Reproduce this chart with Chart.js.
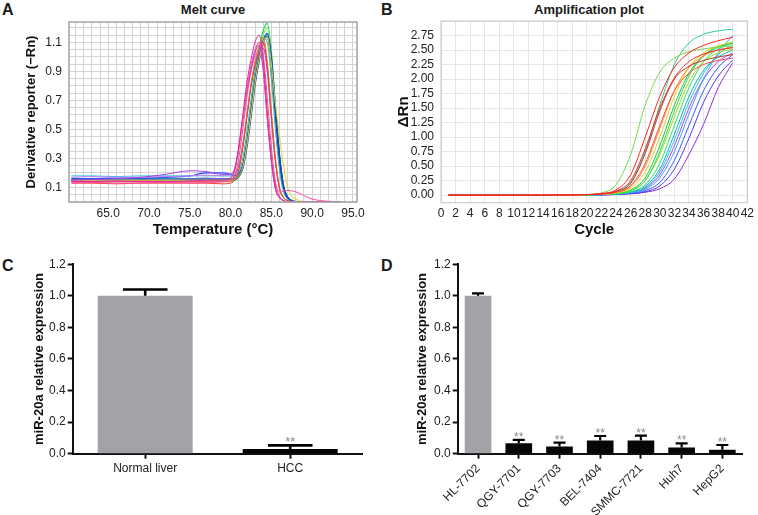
<!DOCTYPE html>
<html>
<head>
<meta charset="utf-8">
<script src="https://cdn.jsdelivr.net/npm/chart.js@4.4.1/dist/chart.umd.min.js"></script>
<style>
  body { margin: 0; background: #fff; width: 758px; height: 515px; position: relative; overflow: hidden;
         font-family: 'Liberation Sans', Arial, sans-serif; color: #1a1a1a; }
  canvas { position: absolute; }
  .letter { position: absolute; font-weight: bold; font-size: 16px; line-height: 16px; }
  .title { position: absolute; font-weight: bold; font-size: 13px; line-height: 13px; white-space: nowrap; transform: translateX(-50%); }
</style>
</head>
<body>
<div class="letter" style="left:2px;top:2px">A</div>
<div class="title" style="left:213px;top:3px">Melt curve</div>
<div class="letter" style="left:381px;top:2px">B</div>
<div class="title" style="left:589px;top:3px">Amplification plot</div>
<div class="letter" style="left:2px;top:258px">C</div>
<div class="letter" style="left:381px;top:258px">D</div>

<canvas id="melt" width="380" height="260" style="left:0;top:0"></canvas>
<canvas id="amp" width="378" height="260" style="left:380px;top:0"></canvas>
<canvas id="tissue" width="380" height="260" style="left:0;top:255px"></canvas>
<canvas id="cells" width="378" height="260" style="left:380px;top:255px"></canvas>

<script>
// ---- melt curve (A): temperatures and derivative reporter per well ----
const meltTemps = [60.5, 63, 66, 69, 72, 75, 77, 79, 80, 80.5, 81, 81.5, 82, 82.5, 83, 83.5, 84, 84.5, 85, 85.5, 86, 86.5, 87, 88, 90, 93.5];
const meltMagenta = [0.14,0.14,0.145,0.14,0.14,0.145,0.15,0.15, 0.17,0.22,0.38,0.6,0.82,0.98,1.1,1.15,0.98,0.62,0.3,0.1,0.03,0.01,0,0,0,0];
const meltPink    = [0.13,0.135,0.13,0.13,0.135,0.13,0.135,0.14, 0.16,0.21,0.36,0.57,0.78,0.94,1.05,1.1,0.95,0.6,0.3,0.13,0.07,0.075,0.08,0.07,0.02,0];
const meltPurple  = [0.15,0.155,0.16,0.17,0.19,0.215,0.21,0.19, 0.19,0.23,0.37,0.57,0.77,0.92,1.03,1.08,0.92,0.58,0.28,0.09,0.03,0.01,0,0,0,0];
const meltRose    = [0.14,0.14,0.14,0.14,0.14,0.14,0.14,0.14, 0.15,0.18,0.3,0.5,0.72,0.9,1.03,1.1,1.02,0.72,0.38,0.14,0.04,0.01,0,0,0,0];
const meltRed     = [0.13,0.13,0.125,0.13,0.13,0.13,0.13,0.125, 0.13,0.15,0.22,0.37,0.58,0.79,0.94,1.05,1.1,0.94,0.6,0.29,0.1,0.03,0.01,0,0,0];
const meltOrange  = [0.14,0.14,0.14,0.145,0.14,0.14,0.14,0.14, 0.145,0.16,0.22,0.38,0.59,0.81,0.97,1.08,1.13,0.97,0.62,0.3,0.1,0.03,0.01,0,0,0];
const meltYellow  = [0.15,0.15,0.15,0.15,0.15,0.15,0.15,0.15, 0.15,0.155,0.18,0.24,0.39,0.6,0.82,0.98,1.1,1.14,0.95,0.68,0.45,0.25,0.1,0.02,0,0];
const meltGreen   = [0.15,0.15,0.15,0.155,0.15,0.15,0.15,0.15, 0.15,0.155,0.18,0.24,0.41,0.64,0.88,1.05,1.18,1.23,1.04,0.66,0.32,0.11,0.03,0.005,0,0];
const meltLime    = [0.14,0.14,0.14,0.14,0.14,0.14,0.14,0.14, 0.14,0.15,0.17,0.23,0.4,0.62,0.86,1.03,1.15,1.2,1.02,0.65,0.31,0.1,0.03,0,0,0];
const meltTeal    = [0.16,0.16,0.16,0.16,0.16,0.16,0.16,0.16, 0.16,0.165,0.19,0.25,0.4,0.61,0.83,0.99,1.11,1.16,0.99,0.63,0.31,0.1,0.03,0,0,0];
const meltSea     = [0.15,0.15,0.155,0.15,0.15,0.15,0.15,0.15, 0.15,0.16,0.2,0.3,0.48,0.7,0.9,1.04,1.13,1.1,0.85,0.5,0.22,0.07,0.02,0,0,0];
const meltCyan    = [0.18,0.18,0.175,0.18,0.18,0.18,0.18,0.18, 0.18,0.19,0.24,0.38,0.58,0.8,0.96,1.07,1.12,0.96,0.62,0.3,0.1,0.03,0.01,0,0,0];
const meltBlue    = [0.16,0.16,0.165,0.165,0.17,0.18,0.2,0.2, 0.19,0.18,0.2,0.25,0.4,0.61,0.83,0.99,1.11,1.16,0.99,0.63,0.31,0.1,0.03,0,0,0];
const meltNavy    = [0.155,0.15,0.15,0.15,0.15,0.15,0.15,0.15, 0.15,0.155,0.18,0.24,0.39,0.6,0.82,0.98,1.1,1.14,0.97,0.62,0.3,0.1,0.03,0,0,0];
const meltLilac   = [0.17,0.175,0.17,0.17,0.175,0.18,0.185,0.18, 0.19,0.23,0.37,0.57,0.76,0.9,1.0,1.05,0.9,0.57,0.28,0.09,0.03,0.01,0,0,0,0];
const meltViolet  = [0.15,0.15,0.15,0.15,0.155,0.16,0.165,0.16, 0.16,0.18,0.25,0.4,0.6,0.8,0.94,1.02,1.06,0.9,0.57,0.27,0.09,0.03,0.01,0,0,0];

// ---- amplification plot (B): cycles and delta Rn per well ----
const ampCycles = [1, 10, 18, 20, 22, 24, 26, 28, 30, 32, 34, 36, 38, 40];
const ampRed1   = [0,0,0.005,0.01,0.03,0.09,0.35,1.0,1.7,2.2,2.45,2.58,2.66,2.72];
const ampRed2   = [0,0,0.005,0.01,0.02,0.07,0.25,0.8,1.5,2.02,2.3,2.43,2.5,2.54];
const ampRed3   = [0,0,0.004,0.008,0.02,0.05,0.16,0.55,1.2,1.8,2.1,2.25,2.32,2.36];
const ampBrown  = [0,0,0.005,0.01,0.02,0.06,0.2,0.72,1.45,2.0,2.22,2.32,2.38,2.42];
const ampGreen1 = [0,0,0.005,0.01,0.04,0.18,0.7,1.55,2.12,2.36,2.47,2.52,2.55,2.57];
const ampGreen2 = [0,0,0.005,0.01,0.02,0.06,0.22,0.75,1.55,2.25,2.62,2.77,2.83,2.86];
const ampOrange = [0,0,0.005,0.01,0.02,0.05,0.15,0.5,1.15,1.8,2.2,2.4,2.5,2.55];
const ampYellow = [0,0,0.004,0.008,0.015,0.04,0.12,0.4,1.0,1.7,2.2,2.45,2.57,2.63];
const ampGreen3 = [0,0,0.003,0.006,0.012,0.03,0.08,0.25,0.75,1.45,2.05,2.4,2.56,2.64];
const ampLime   = [0,0,0.003,0.006,0.012,0.03,0.08,0.25,0.7,1.35,1.95,2.3,2.45,2.52];
const ampGreen4 = [0,0,0.003,0.006,0.012,0.03,0.09,0.3,0.85,1.55,2.1,2.4,2.55,2.62];
const ampSpring = [0,0,0.003,0.005,0.01,0.025,0.06,0.18,0.55,1.2,1.85,2.3,2.52,2.62];
const ampTeal   = [0,0,0.002,0.005,0.01,0.022,0.055,0.15,0.45,1.05,1.7,2.15,2.38,2.5];
const ampCyan   = [0,0,0.002,0.004,0.008,0.02,0.05,0.13,0.4,0.95,1.6,2.1,2.42,2.6];
const ampSky    = [0,0,0.002,0.004,0.008,0.018,0.04,0.1,0.3,0.75,1.4,2.0,2.45,2.75];
const ampBlue   = [0,0,0.002,0.004,0.007,0.015,0.035,0.08,0.22,0.6,1.2,1.8,2.2,2.42];
const ampIndigo = [0,0,0.002,0.003,0.006,0.012,0.028,0.06,0.16,0.45,0.98,1.6,2.05,2.33];
const ampPurple = [0,0,0.002,0.003,0.005,0.01,0.022,0.05,0.11,0.28,0.7,1.22,1.85,2.28];
const ampViolet = [0,0,0.002,0.003,0.006,0.015,0.04,0.12,0.35,0.85,1.5,2.0,2.3,2.45];

// ---- relative expression (C, D) ----
const tissueLabels = ['Normal liver', 'HCC'];
const tissueValues = [1.0, 0.03];
const tissueErrors = [0.04, 0.023];
const tissueMarks  = ['', '**'];

const cellLabels = ['HL-7702', 'QGY-7701', 'QGY-7703', 'BEL-7404', 'SMMC-7721', 'Huh7', 'HepG2'];
const cellValues = [1.0, 0.066, 0.046, 0.083, 0.083, 0.039, 0.025];
const cellErrors = [0.015, 0.021, 0.024, 0.029, 0.031, 0.027, 0.03];
const cellMarks  = ['', '**', '**', '**', '**', '**', '**'];

// ---- styling ----
Chart.defaults.font.family = "'Liberation Sans', Arial, sans-serif";
Chart.defaults.color = '#1a1a1a';

const meltSeries = [
  [meltMagenta, '#e0289a', 1], [meltPink, '#ff4fa8', 1], [meltPurple, '#a442e2', 1], [meltRose, '#f0507a', 1],
  [meltRed, '#ff3434', 1], [meltOrange, '#ff8c1e', 1], [meltYellow, '#e4d41e', 1],
  [meltLilac, '#c47cf0', 1], [meltViolet, '#7e4ee8', 1], [meltCyan, '#2ac6e6', 1], [meltSea, '#1cc0a0', 1],
  [meltNavy, '#1e3ec8', 2], [meltBlue, '#2a48ff', 1.2], [meltTeal, '#12a89a', 1.5],
  [meltLime, '#78f25a', 1.2], [meltGreen, '#1ed45c', 1.2]
];
const ampSeries = [
  [ampRed1, '#ff2424'], [ampRed2, '#e83030'], [ampRed3, '#ff4a4a'], [ampBrown, '#b43622'],
  [ampGreen1, '#78d84a'], [ampGreen2, '#1ccf8c'], [ampOrange, '#ff8a1e'], [ampYellow, '#e2d21c'],
  [ampGreen3, '#34dc34'], [ampLime, '#9ee01e'], [ampGreen4, '#12c060'], [ampSpring, '#20e07c'],
  [ampTeal, '#10b0b0'], [ampCyan, '#22c4e2'], [ampSky, '#3c9cff'], [ampBlue, '#2f5cff'],
  [ampIndigo, '#4c3cf0'], [ampPurple, '#8e2ee0'], [ampViolet, '#b040ff']
];

const frame = {
  id: 'frame',
  afterDraw(chart, args, opts) {
    const { ctx, chartArea: a } = chart;
    ctx.save();
    ctx.strokeStyle = opts.color;
    ctx.lineWidth = opts.width;
    ctx.strokeRect(a.left, a.top, a.right - a.left, a.bottom - a.top);
    ctx.restore();
  }
};

// upper whisker + cap + significance stars, placed with the y scale
const errorBars = {
  id: 'errorBars',
  afterDatasetsDraw(chart, args, opts) {
    const { ctx } = chart;
    const y = chart.scales.y;
    const values = chart.data.datasets[0].data;
    chart.getDatasetMeta(0).data.forEach((bar, i) => {
      const base = y.getPixelForValue(values[i]);
      const top = y.getPixelForValue(values[i] + opts.errors[i]);
      const half = bar.width * opts.cap / 2;
      ctx.save();
      ctx.strokeStyle = '#000';
      ctx.lineWidth = opts.lineWidth;
      ctx.beginPath();
      ctx.moveTo(bar.x, base);
      ctx.lineTo(bar.x, top);
      ctx.moveTo(bar.x - half, top);
      ctx.lineTo(bar.x + half, top);
      ctx.stroke();
      if (opts.marks[i]) {
        ctx.fillStyle = '#8a8a8a';
        ctx.font = opts.markFont;
        ctx.textAlign = 'center';
        ctx.textBaseline = 'alphabetic';
        ctx.fillText(opts.marks[i], bar.x, top + 1);
      }
      ctx.restore();
    });
  }
};

new Chart(document.getElementById('melt'), {
  type: 'line',
  data: {
    datasets: meltSeries.map(([vals, color, w]) => ({
      data: meltTemps.map((t, i) => ({ x: t, y: vals[i] })),
      borderColor: color, borderWidth: w, pointRadius: 0,
      cubicInterpolationMode: 'monotone', fill: false
    }))
  },
  options: {
    responsive: false, animation: false,
    layout: { padding: { top: 22, right: 23, left: 0, bottom: 0 } },
    plugins: { legend: { display: false }, tooltip: { enabled: false }, frame: { color: '#a4a4a4', width: 1.5 } },
    scales: {
      x: {
        type: 'linear', min: 60.2, max: 95.5,
        afterFit(s) { s.height = 58; },
        ticks: { stepSize: 1, includeBounds: false, autoSkip: false, maxRotation: 0, padding: 4, font: { size: 12 }, color: '#222',
                 callback: v => (v % 5 === 0 && v >= 65) ? v.toFixed(1) : '' },
        grid: { color: '#d4d4d4', drawTicks: false },
        border: { display: false },
        title: { display: true, text: 'Temperature (°C)', font: { size: 15, weight: 'bold' }, color: '#111', padding: { top: 0, bottom: 21 } }
      },
      y: {
        min: 0, max: 1.24,
        afterFit(s) { s.width = 69; },
        ticks: { stepSize: 0.05, includeBounds: false, autoSkip: false, padding: 7, font: { size: 12 }, color: '#222',
                 callback: v => { const k = Math.round(v * 100); return k % 20 === 10 ? (k / 100).toFixed(1) : ''; } },
        grid: { color: '#d4d4d4', drawTicks: false },
        border: { display: false },
        title: { display: true, text: 'Derivative reporter (−Rn)', font: { size: 13, weight: 'bold' }, color: '#111', padding: { top: 24, bottom: 0 } }
      }
    }
  },
  plugins: [frame]
});

new Chart(document.getElementById('amp'), {
  type: 'line',
  data: {
    datasets: ampSeries.map(([vals, color]) => ({
      data: ampCycles.map((c, i) => ({ x: c, y: vals[i] })),
      borderColor: color, borderWidth: 1, pointRadius: 0,
      cubicInterpolationMode: 'monotone', fill: false
    }))
  },
  options: {
    responsive: false, animation: false,
    layout: { padding: { top: 21, right: 7.5, left: 0, bottom: 0 } },
    plugins: { legend: { display: false }, tooltip: { enabled: false }, frame: { color: '#c4c4c4', width: 1 } },
    scales: {
      x: {
        type: 'linear', min: 0, max: 42,
        afterFit(s) { s.height = 57.3; },
        ticks: { stepSize: 2, autoSkip: false, maxRotation: 0, padding: 4, font: { size: 12 }, color: '#222' },
        grid: { color: '#e6e6e6', drawTicks: false },
        border: { display: false },
        title: { display: true, text: 'Cycle', font: { size: 15, weight: 'bold' }, color: '#111', padding: { top: 0, bottom: 21 } }
      },
      y: {
        min: -0.13, max: 3.0,
        afterFit(s) { s.width = 61; },
        ticks: { stepSize: 0.25, includeBounds: false, autoSkip: false, padding: 7, font: { size: 12 }, color: '#222',
                 callback: v => (v >= 0 && v <= 2.76) ? v.toFixed(2) : '' },
        grid: { color: '#e6e6e6', drawTicks: false },
        border: { display: false },
        title: { display: true, text: 'ΔRn', font: { size: 15, weight: 'bold' }, color: '#111', padding: { top: 15, bottom: 0 } }
      }
    }
  },
  plugins: [frame]
});

function barOptions(yWidth, rightPad, titlePad, xTicks, err) {
  return {
    responsive: false, animation: false,
    layout: { padding: { top: 8.6, right: rightPad, left: 0, bottom: 0 } },
    plugins: { legend: { display: false }, tooltip: { enabled: false }, errorBars: err },
    scales: {
      x: {
        offset: true,
        afterFit(s) { s.height = 61.3; },
        ticks: Object.assign({ autoSkip: false, font: { size: 12 }, color: '#222' }, xTicks),
        grid: { offset: false, drawOnChartArea: false, tickLength: 5, tickColor: '#111', tickWidth: 2 },
        border: { color: '#111', width: 2 }
      },
      y: {
        min: 0, max: 1.2,
        afterFit(s) { s.width = yWidth; },
        ticks: { stepSize: 0.2, padding: 2, font: { size: 12 }, color: '#222', callback: v => v.toFixed(1) },
        grid: { drawOnChartArea: false, tickLength: 5, tickColor: '#111', tickWidth: 2 },
        border: { color: '#111', width: 2 },
        title: { display: true, text: 'miR-20a relative expression', font: { size: 13, weight: 'bold' }, color: '#111', padding: { top: titlePad, bottom: 0 } }
      }
    }
  };
}

new Chart(document.getElementById('tissue'), {
  type: 'bar',
  data: {
    labels: tissueLabels,
    datasets: [{ data: tissueValues, backgroundColor: ['#a3a3a7', '#060606'], barPercentage: 0.655, categoryPercentage: 1 }]
  },
  options: barOptions(72.7, 17.3, 32, { maxRotation: 0, padding: 3 },
    { errors: tissueErrors, marks: tissueMarks, cap: 0.47, lineWidth: 2.6, markFont: '13px "Liberation Sans", Arial' }),
  plugins: [errorBars]
});

new Chart(document.getElementById('cells'), {
  type: 'bar',
  data: {
    labels: cellLabels,
    datasets: [{ data: cellValues, backgroundColor: ['#a3a3a7', '#060606', '#060606', '#060606', '#060606', '#060606', '#060606'], barPercentage: 0.655, categoryPercentage: 1 }]
  },
  options: barOptions(77.7, 15.3, 35, { minRotation: 45, maxRotation: 45, padding: 3 },
    { errors: cellErrors, marks: cellMarks, cap: 0.45, lineWidth: 2.2, markFont: '12px "Liberation Sans", Arial' }),
  plugins: [errorBars]
});
</script>
</body>
</html>
